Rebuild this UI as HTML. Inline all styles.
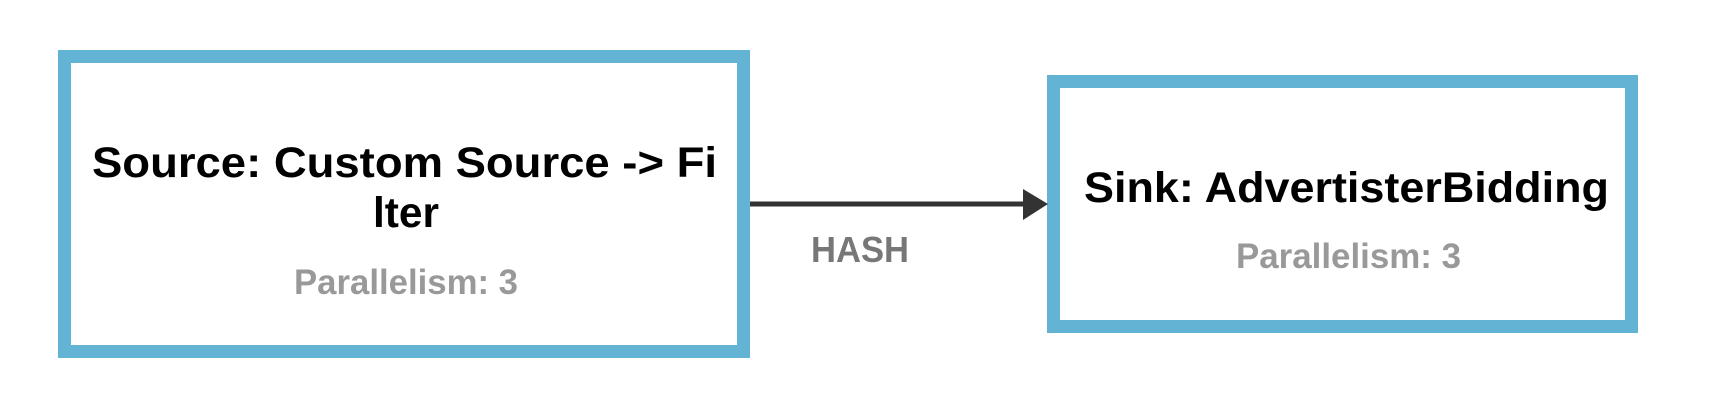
<!DOCTYPE html>
<html><head><meta charset="utf-8"><style>html,body{margin:0;padding:0;background:#fff;width:1730px;height:418px;overflow:hidden}</style></head>
<body>
<svg width="1730" height="418" xmlns="http://www.w3.org/2000/svg" font-family="Liberation Sans, Arial, sans-serif" font-weight="bold">
<rect x="64.5" y="56.5" width="679" height="295" fill="#fff" stroke="#63b3d4" stroke-width="13"/>
<rect x="1053.5" y="81.5" width="578" height="245" fill="#fff" stroke="#63b3d4" stroke-width="13"/>
<line x1="750" y1="204" x2="1026" y2="204" stroke="#333" stroke-width="5"/>
<polygon points="1023,189 1048,204 1023,220" fill="#333"/>
<text x="92" y="177" font-size="43" fill="#000" textLength="625" lengthAdjust="spacingAndGlyphs">Source: Custom Source -&gt; Fi</text>
<text x="406" y="227" font-size="43" fill="#000" text-anchor="middle" textLength="66" lengthAdjust="spacingAndGlyphs">lter</text>
<text x="294" y="294" font-size="35" fill="#999" textLength="224" lengthAdjust="spacingAndGlyphs">Parallelism: 3</text>
<text x="811" y="262" font-size="36" fill="#777" textLength="98" lengthAdjust="spacingAndGlyphs">HASH</text>
<text x="1084" y="202" font-size="43" fill="#000" textLength="525" lengthAdjust="spacingAndGlyphs">Sink: AdvertisterBidding</text>
<text x="1236" y="268" font-size="35" fill="#999" textLength="225" lengthAdjust="spacingAndGlyphs">Parallelism: 3</text>
</svg>
</body></html>
